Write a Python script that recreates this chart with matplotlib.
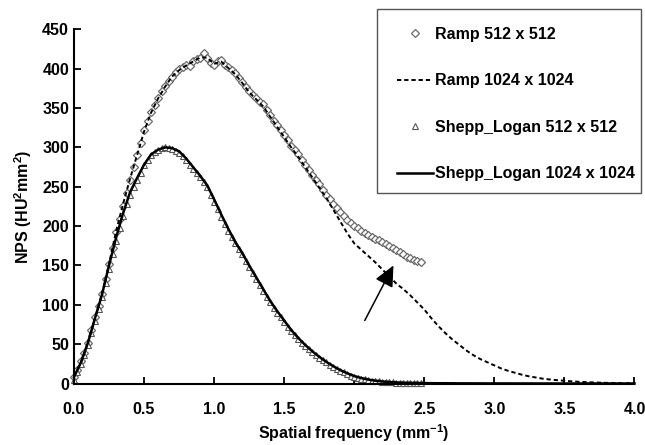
import matplotlib
matplotlib.use("Agg")
import matplotlib.pyplot as plt
from matplotlib.patches import Rectangle
import numpy as np

plt.rcParams['font.family'] = ['Liberation Sans', 'DejaVu Sans']
plt.rcParams['font.weight'] = 'bold'
plt.rcParams['mathtext.fontset'] = 'custom'
plt.rcParams['mathtext.rm'] = 'Liberation Sans:bold'
plt.rcParams['mathtext.bf'] = 'Liberation Sans:bold'
plt.rcParams['mathtext.default'] = 'bf'


# 512 x 512 reconstructions, sampled every 0.025 mm^-1
freq_512 = np.arange(100) * 0.025
ramp_512 = [8, 17, 28, 39, 52, 68, 84, 98, 114, 133,
            152, 172, 192, 209, 226, 242, 258, 275, 290, 306,
            322, 334, 345, 354, 363, 371, 378, 384, 390, 396,
            399, 402, 405, 403, 410, 412, 414, 420, 413, 407,
            405, 410, 411, 405, 402, 398, 394, 388, 383, 377,
            372, 366, 363, 358, 355, 347, 341, 334, 328, 322,
            316, 309, 302, 297, 291, 284, 278, 271, 265, 259,
            253, 246, 240, 234, 228, 223, 218, 213, 208, 204,
            200, 197, 194, 191, 189, 186, 184, 182, 180, 177,
            175, 172, 170, 167, 164, 161, 159, 157, 155, 154]
shepp_512 = [5, 14, 25, 36, 49, 64, 80, 95, 110, 128,
             146, 164, 181, 198, 213, 228, 240, 250, 258, 268,
             277, 284, 290, 294, 297, 299, 300, 299, 298, 296,
             293, 289, 284, 278, 272, 267, 262, 256, 249, 240,
             231, 222, 212, 203, 194, 186, 178, 171, 164, 156,
             148, 141, 133, 125, 118, 110, 103, 96, 90, 84,
             78, 72, 67, 62, 57, 52, 48, 44, 40, 36,
             33, 30, 27, 24, 21, 18.5, 16, 14, 12, 10,
             8.5, 7.2, 6, 5.2, 4.5, 3.7, 3, 2.6, 2.3, 2,
             1.7, 1.4, 1.2, 1, 0.9, 0.8, 0.6, 0.5, 0.4, 0.4]

# 1024 x 1024 reconstructions, sampled every 0.05 mm^-1
freq_1024 = np.arange(81) * 0.05
ramp_1024 = [10, 27, 52, 83, 114, 152, 193, 228, 260, 290,
             320, 344, 362, 377, 390, 398, 404, 409, 414, 414,
             406, 409, 401, 393, 382, 370, 361, 352, 339, 326,
             313, 300, 288, 275, 262, 249, 236, 221, 206, 191,
             178, 170, 162, 154, 145, 136, 127, 120, 112, 103,
             94, 83, 73, 64, 56, 49, 42, 36, 31, 27,
             23, 19, 16, 13.5, 11, 9, 7.5, 6, 5, 4.2,
             3.5, 2.8, 2.2, 1.8, 1.4, 1.1, 0.8, 0.6, 0.4, 0.3,
             0.2]
shepp_1024 = [8, 27, 52, 83, 113, 150, 185, 216, 243, 261,
              278, 291, 297, 300, 299, 295, 286, 275, 264, 252,
              234, 215, 197, 180, 166, 150, 135, 120, 105, 92,
              80, 68, 58, 49, 41, 34, 27.5, 22, 17, 13,
              9.5, 7, 5, 3.6, 2.6, 1.9, 1.4, 1.0, 0.8, 0.6,
              0.5, 0.4, 0.35, 0.3, 0.25, 0.2, 0.2, 0.15, 0.15, 0.1,
              0.1, 0.1, 0.1, 0.05, 0.05, 0.05, 0.05, 0.05, 0.05, 0,
              0, 0, 0, 0, 0, 0, 0, 0, 0, 0,
              0]

labels = ['Ramp 512 x 512', 'Ramp 1024 x 1024',
          'Shepp_Logan 512 x 512', 'Shepp_Logan 1024 x 1024']

fig = plt.figure(figsize=(6.45, 4.45), dpi=100)
ax = fig.add_axes([0.1147, 0.1382, 0.8690, 0.7960])

h1, = ax.plot(freq_512, ramp_512, linestyle='none', marker='D', ms=3.8,
              mfc='white', mec='#6a6a6a', mew=0.9, clip_on=False)
h3, = ax.plot(freq_512, shepp_512, linestyle='none', marker='^', ms=4.4,
              mfc='white', mec='#555555', mew=0.8, clip_on=False)
h2, = ax.plot(freq_1024, ramp_1024, color='black', lw=1.4,
              linestyle=(0, (2.2, 1.5)), clip_on=False)
h4, = ax.plot(freq_1024, shepp_1024, color='black', lw=1.8, clip_on=False)

# arrow pointing at the ramp 1024 curve
ax.annotate('', xy=(2.28, 150), xytext=(2.075, 80),
            arrowprops=dict(arrowstyle='-|>,head_length=0.75,head_width=0.35',
                            mutation_scale=17, color='black', lw=1.1,
                            shrinkA=0, shrinkB=0))

ax.set_xlim(0, 4)
ax.set_ylim(0, 450)
ax.set_xticks(np.arange(0, 4.01, 0.5))
ax.set_yticks(np.arange(0, 451, 50))
ax.set_xticklabels(['%.1f' % v for v in np.arange(0, 4.01, 0.5)])
for s in ['top', 'right']:
    ax.spines[s].set_visible(False)
for s in ['left', 'bottom']:
    ax.spines[s].set_linewidth(1.5)
ax.tick_params(axis='both', direction='in', length=5, width=1.3,
               labelsize=11.5)
ax.tick_params(axis='x', pad=13)
ax.tick_params(axis='y', pad=3.5)

ax.set_xlabel('Spatial frequency (mm$^{-1}$)', fontsize=11.5,
              fontweight='bold', labelpad=4)
ax.set_ylabel('NPS (HU$^{2}$mm$^{2}$)', fontsize=11.5, fontweight='bold',
              labelpad=6)

# legend box
fig.patches.append(Rectangle((377 / 645, 1 - 193 / 445),
                             264 / 645, 184 / 445,
                             transform=fig.transFigure, fill=False,
                             edgecolor='#555555', lw=1.0))
leg = fig.legend([h1, h2, h3, h4], labels, loc='upper left',
                 bbox_to_anchor=(397 / 645, 1 - 27 / 445),
                 frameon=False, fontsize=11.5, handlelength=2.25,
                 handletextpad=0.13, labelspacing=1.97, borderpad=0,
                 borderaxespad=0)
for t in leg.get_texts():
    t.set_fontweight('bold')

fig.savefig('out.png', dpi=100)
